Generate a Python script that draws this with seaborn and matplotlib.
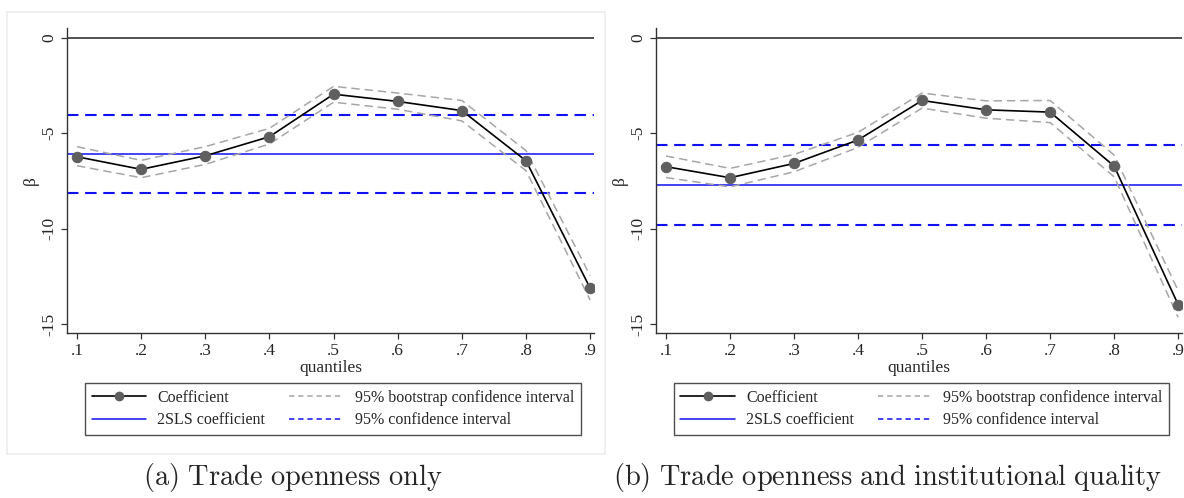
import numpy as np
import pandas as pd
import matplotlib
matplotlib.use("Agg")
import matplotlib.pyplot as plt
import seaborn as sns
from matplotlib.lines import Line2D
from matplotlib.patches import Rectangle

# ---------------- data ----------------
quantiles = [0.1, 0.2, 0.3, 0.4, 0.5, 0.6, 0.7, 0.8, 0.9]
tick_labels = [".1", ".2", ".3", ".4", ".5", ".6", ".7", ".8", ".9"]

coef_a = [-6.23, -6.89, -6.18, -5.18, -2.95, -3.33, -3.81, -6.44, -13.12]
boot_hi_a = [-5.70, -6.42, -5.70, -4.74, -2.54, -2.89, -3.28, -5.91, -12.46]
boot_lo_a = [-6.70, -7.33, -6.63, -5.56, -3.37, -3.74, -4.35, -6.96, -13.74]
tsls_a = -6.07
ci_a = [-4.02, -8.11]

coef_b = [-6.75, -7.33, -6.58, -5.35, -3.28, -3.77, -3.89, -6.72, -13.98]
boot_hi_b = [-6.19, -6.84, -6.11, -4.95, -2.89, -3.30, -3.28, -6.14, -13.25]
boot_lo_b = [-7.32, -7.81, -7.02, -5.74, -3.68, -4.21, -4.44, -7.28, -14.65]
tsls_b = -7.72
ci_b = [-5.61, -9.82]

yticks = [0, -5, -10, -15]
captions = [r"$\mathrm{(a)\ Trade\ openness\ only}$",
            r"$\mathrm{(b)\ Trade\ openness\ and\ institutional\ quality}$"]
legend_labels = ["Coefficient", "2SLS coefficient",
                 "95% bootstrap confidence interval", "95% confidence interval"]

# ---------------- style ----------------
sns.set_style("white")
plt.rcParams["font.family"] = ["Liberation Serif", "DejaVu Serif"]
plt.rcParams["mathtext.fontset"] = "cm"

W, H = 1184, 498
fig = plt.figure(figsize=(W / 100, H / 100), dpi=100)

def fx(px):
    return px / W

def fy(py):
    return 1 - py / H

BLUE = "#1010f0"
GRAY = "#a6a6a6"
MK = "#5f5f5f"

# light frame around panel (a)
fig.patches.append(Rectangle((fx(7), fy(454)), fx(605) - fx(7), fy(12) - fy(454),
                             transform=fig.transFigure, fill=False,
                             edgecolor="#ececec", linewidth=1.2, zorder=0))

panels = [
    dict(left=67, right=594, coef=coef_a, hi=boot_hi_a, lo=boot_lo_a,
         tsls=tsls_a, ci=ci_a, leg=(87, 579), cap_x=293),
    dict(left=656, right=1182, coef=coef_b, hi=boot_hi_b, lo=boot_lo_b,
         tsls=tsls_b, ci=ci_b, leg=(676, 1167), cap_x=888),
]

top_px, bot_px = 28, 333

for i, p in enumerate(panels):
    ax = fig.add_axes([fx(p["left"]), fy(bot_px), fx(p["right"]) - fx(p["left"]),
                       fy(top_px) - fy(bot_px)])
    df = pd.DataFrame({"q": quantiles, "coef": p["coef"], "hi": p["hi"], "lo": p["lo"]})

    ax.axhline(0, color="#222222", linewidth=1.1, zorder=1)
    ax.axhline(p["tsls"], color=BLUE, linewidth=1.1, zorder=2)
    for v in p["ci"]:
        ax.axhline(v, color=BLUE, linewidth=1.5, linestyle=(0, (5.5, 3.2)), zorder=2)

    sns.lineplot(data=df, x="q", y="hi", ax=ax, color=GRAY, linewidth=1.1,
                 linestyle=(0, (5.5, 3.2)), zorder=3)
    sns.lineplot(data=df, x="q", y="lo", ax=ax, color=GRAY, linewidth=1.1,
                 linestyle=(0, (5.5, 3.2)), zorder=3)
    sns.lineplot(data=df, x="q", y="coef", ax=ax, color="black", linewidth=1.2,
                 marker="o", markersize=7.5, markerfacecolor=MK,
                 markeredgecolor=MK, zorder=4)

    ax.set_xlim(0.0844, 0.906)
    ax.set_ylim(-15.47, 0.52)
    ax.set_xticks(quantiles)
    ax.set_xticklabels(tick_labels)
    ax.set_yticks(yticks)
    ax.set_yticklabels([str(t) for t in yticks], rotation=90, va="center")
    ax.tick_params(axis="both", direction="out", length=4, width=0.9,
                   color="#333333", labelsize=12.5, pad=3,
                   bottom=True, left=True)
    for s in ["top", "right"]:
        ax.spines[s].set_visible(False)
    for s in ["left", "bottom"]:
        ax.spines[s].set_color("#333333")
        ax.spines[s].set_linewidth(1.0)
    ax.set_xlabel("quantiles", fontsize=12.5, labelpad=1)
    ax.set_ylabel("β", fontsize=12.5, labelpad=2)
    ax.set_facecolor("white")

    handles = [
        Line2D([], [], color="black", linewidth=1.2, marker="o", markersize=6,
               markerfacecolor=MK, markeredgecolor=MK),
        Line2D([], [], color=BLUE, linewidth=1.1),
        Line2D([], [], color=GRAY, linewidth=1.1, linestyle=(0, (3.5, 2.5))),
        Line2D([], [], color=BLUE, linewidth=1.1, linestyle=(0, (3.5, 2.5))),
    ]
    l0, l1 = p["leg"]
    leg = fig.legend(handles, legend_labels, ncol=2, loc="upper center",
                     bbox_to_anchor=(fx((l0 + l1) / 2), fy(383)),
                     bbox_transform=fig.transFigure, frameon=True, fancybox=False,
                     edgecolor="#222222", fontsize=11.5, handlelength=3.4,
                     columnspacing=1.5, handletextpad=0.7, borderpad=0.42,
                     labelspacing=0.42, borderaxespad=0)
    leg.get_frame().set_linewidth(1.0)

    fig.text(fx(p["cap_x"]), fy(478), captions[i], ha="center", va="center",
             fontsize=20.5)

fig.savefig("out.png", dpi=100, facecolor="white")
